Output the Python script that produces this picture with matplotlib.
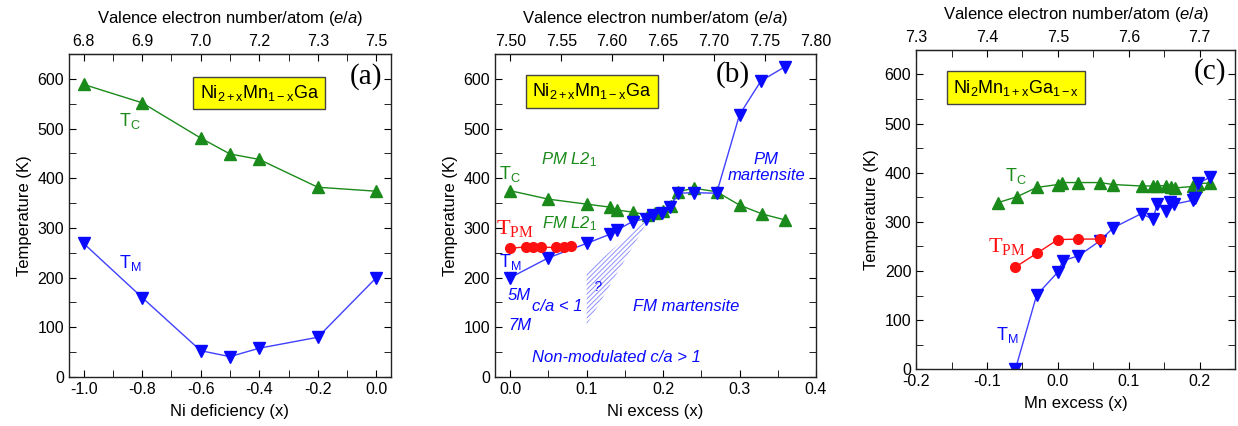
import matplotlib
matplotlib.use("Agg")
import matplotlib.pyplot as plt
from matplotlib.patches import Polygon
from matplotlib.ticker import MultipleLocator

plt.rcParams['font.family'] = ['Liberation Sans', 'DejaVu Sans']
plt.rcParams['font.size'] = 11
plt.rcParams['axes.unicode_minus'] = False
plt.rcParams['mathtext.fontset'] = 'custom'
plt.rcParams['mathtext.rm'] = 'Liberation Sans'
plt.rcParams['mathtext.it'] = 'Liberation Sans:italic'
plt.rcParams['hatch.linewidth'] = 0.7

GREEN = '#1a8a1a'
BLUE = '#0a0aff'
BLUE_LINE = '#4040ff'
RED = '#ff1010'

# (a) Ni2+xMn1-xGa, Ni deficiency
a_tc_x = [-1.0, -0.8, -0.6, -0.5, -0.4, -0.2, 0.0]
a_tc = [589, 552, 481, 449, 438, 382, 374]
a_tm_x = [-1.0, -0.8, -0.6, -0.5, -0.4, -0.2, 0.0]
a_tm = [269, 160, 53, 41, 58, 80, 200]
a_top_ticks = [6.75, 6.9, 7.05, 7.2, 7.35, 7.5]
a_top_labels = ['6.8', '6.9', '7.0', '7.2', '7.3', '7.5']

# (b) Ni2+xMn1-xGa, Ni excess
b_tc_x = [0.0, 0.05, 0.10, 0.13, 0.14, 0.16, 0.18, 0.19, 0.20, 0.21, 0.22, 0.24, 0.27, 0.30, 0.33, 0.36]
b_tc = [375, 358, 348, 342, 336, 332, 326, 330, 334, 345, 373, 380, 373, 346, 328, 316]
b_tm_x = [0.0, 0.05, 0.10, 0.13, 0.14, 0.16, 0.178, 0.187, 0.198, 0.209, 0.22, 0.24, 0.27, 0.30, 0.328, 0.36]
b_tm = [200, 240, 269, 287, 296, 313, 319, 326, 331, 342, 370, 371, 370, 528, 596, 625]
b_tpm_x = [0.0, 0.02, 0.03, 0.04, 0.06, 0.07, 0.08]
b_tpm = [259, 262, 261, 261, 261, 262, 264]
b_wedge = [(0.1, 105), (0.1, 212), (0.183, 322)]

# (c) Ni2Mn1+xGa1-x, Mn excess
c_tc_x = [-0.085, -0.058, -0.030, 0.0, 0.006, 0.029, 0.059, 0.078, 0.118, 0.134, 0.140, 0.153, 0.160, 0.165, 0.190, 0.195, 0.198, 0.215]
c_tc = [339, 351, 370, 376, 380, 380, 380, 376, 373, 373, 373, 374, 370, 369, 372, 374, 378, 379]
c_tm_x = [-0.060, -0.030, 0.0, 0.007, 0.029, 0.059, 0.078, 0.118, 0.134, 0.140, 0.153, 0.158, 0.164, 0.190, 0.193, 0.198, 0.215]
c_tm = [0, 151, 198, 221, 231, 261, 288, 317, 305, 336, 322, 340, 336, 344, 349, 379, 391]
c_tpm_x = [-0.060, -0.030, 0.0, 0.029, 0.059]
c_tpm = [208, 236, 264, 265, 265]

fig = plt.figure(figsize=(12.38, 4.26), dpi=100)
ax_a = fig.add_axes([0.0557, 0.115, 0.2601, 0.758])
ax_b = fig.add_axes([0.3998, 0.115, 0.2593, 0.758])
ax_c = fig.add_axes([0.7400, 0.133, 0.2577, 0.750])


def style(ax, xlim, xmaj, xmin, xlabel):
    ax.set_xlim(*xlim)
    ax.set_ylim(0, 650)
    ax.xaxis.set_major_locator(MultipleLocator(xmaj))
    ax.xaxis.set_minor_locator(MultipleLocator(xmin))
    ax.yaxis.set_major_locator(MultipleLocator(100))
    ax.yaxis.set_minor_locator(MultipleLocator(50))
    ax.tick_params(which='both', direction='in', right=True, top=False, labelsize=11.5)
    ax.tick_params(which='both', length=5)
    for s in ax.spines.values():
        s.set_linewidth(1.0)
        s.set_color('#222222')
    ax.set_xlabel(xlabel, fontsize=12, labelpad=5)
    ax.set_ylabel('Temperature (K)', fontsize=12, labelpad=4)


def top_axis(ax, k, ticks, labels=None, minor=None):
    sec = ax.secondary_xaxis('top', functions=(lambda x: 7.5 + k * x, lambda e: (e - 7.5) / k))
    sec.set_xticks(ticks)
    if labels is not None:
        sec.set_xticklabels(labels)
    if minor is not None:
        sec.set_xticks(minor, minor=True)
    sec.tick_params(which='both', direction='in', length=5, labelsize=11.5)
    sec.set_xlabel('Valence electron number/atom ($\\mathit{e/a}$)', fontsize=12, labelpad=8)
    return sec


def formula_box(ax, x, y, s):
    ax.text(x, y, s, fontsize=13, ha='center', va='center',
            bbox=dict(boxstyle='square,pad=0.35', facecolor='#ffff00', edgecolor='#444444', linewidth=1.0))


def plot_tc(ax, x, y):
    ax.plot(x, y, '-', color=GREEN, lw=1.0, marker='^', ms=8.5, mfc=GREEN, mec=GREEN)


def plot_tm(ax, x, y):
    ax.plot(x, y, '-', color=BLUE_LINE, lw=1.0, marker='v', ms=8.5, mfc=BLUE, mec=BLUE)


def plot_tpm(ax, x, y):
    ax.plot(x, y, '-', color=RED, lw=1.0, marker='o', ms=7, mfc=RED, mec=RED)


# ---- panel (a)
style(ax_a, (-1.05, 0.05), 0.2, 0.1, 'Ni deficiency (x)')
top_axis(ax_a, 0.75, a_top_ticks, a_top_labels,
         [6.825, 6.975, 7.125, 7.275, 7.425])
plot_tc(ax_a, a_tc_x, a_tc)
plot_tm(ax_a, a_tm_x, a_tm)
ax_a.text(-0.88, 506, r'T$_\mathregular{C}$', color=GREEN, fontsize=13)
ax_a.text(-0.88, 220, r'T$_\mathregular{M}$', color=BLUE, fontsize=13)
formula_box(ax_a, -0.40, 572, r'$\mathregular{Ni_{2+x}Mn_{1-x}Ga}$')
ax_a.text(0.02, 604, '(a)', fontsize=21, family='Liberation Serif', ha='right', va='center')

# ---- panel (b)
style(ax_b, (-0.02, 0.40), 0.1, 0.05, 'Ni excess (x)')
top_axis(ax_b, 0.75, [7.50, 7.55, 7.60, 7.65, 7.70, 7.75, 7.80],
         ['7.50', '7.55', '7.60', '7.65', '7.70', '7.75', '7.80'])
ax_b.add_patch(Polygon(b_wedge, closed=True, fill=False, hatch='///////',
                       edgecolor='#9090ff', linewidth=0))
plot_tc(ax_b, b_tc_x, b_tc)
plot_tm(ax_b, b_tm_x, b_tm)
plot_tpm(ax_b, b_tpm_x, b_tpm)
ax_b.text(-0.015, 398, r'T$_\mathregular{C}$', color=GREEN, fontsize=13)
ax_b.text(-0.018, 287, r'$\mathregular{T_{PM}}$', color=RED, fontsize=16, family='Liberation Serif')
ax_b.text(-0.015, 222, r'T$_\mathregular{M}$', color=BLUE, fontsize=13)
ax_b.text(0.040, 438, r'PM L2$_\mathit{1}$', color=GREEN, fontsize=12, style='italic', va='center')
ax_b.text(0.042, 309, r'FM L2$_\mathit{1}$', color=GREEN, fontsize=12, style='italic', va='center')
ax_b.text(-0.003, 165, '5M', color=BLUE, fontsize=12, style='italic', va='center')
ax_b.text(0.028, 141, 'c/a < 1', color=BLUE, fontsize=12, style='italic', va='center')
ax_b.text(-0.003, 104, '7M', color=BLUE, fontsize=12, style='italic', va='center')
ax_b.text(0.161, 141, 'FM martensite', color=BLUE, fontsize=12, style='italic', va='center')
ax_b.text(0.028, 39, 'Non-modulated c/a > 1', color=BLUE, fontsize=12, style='italic', va='center')
ax_b.text(0.335, 421, 'PM\nmartensite', color=BLUE, fontsize=12, style='italic',
          ha='center', va='center', linespacing=1.1)
ax_b.text(0.115, 181, '?', color=BLUE, fontsize=10, style='italic', ha='center', va='center')
formula_box(ax_b, 0.107, 575, r'$\mathregular{Ni_{2+x}Mn_{1-x}Ga}$')
ax_b.text(0.313, 608, '(b)', fontsize=21, family='Liberation Serif', ha='right', va='center')

# ---- panel (c)
style(ax_c, (-0.2, 0.25), 0.1, 0.05, 'Mn excess (x)')
top_axis(ax_c, 1.0, [7.3, 7.4, 7.5, 7.6, 7.7], ['7.3', '7.4', '7.5', '7.6', '7.7'],
         [7.35, 7.45, 7.55, 7.65, 7.75])
plot_tc(ax_c, c_tc_x, c_tc)
plot_tm(ax_c, c_tm_x, c_tm)
plot_tpm(ax_c, c_tpm_x, c_tpm)
ax_c.text(-0.074, 383, r'T$_\mathregular{C}$', color=GREEN, fontsize=13)
ax_c.text(-0.099, 238, r'$\mathregular{T_{PM}}$', color=RED, fontsize=16, family='Liberation Serif')
ax_c.text(-0.088, 60, r'T$_\mathregular{M}$', color=BLUE, fontsize=13)
formula_box(ax_c, -0.059, 573, r'$\mathregular{Ni_{2}Mn_{1+x}Ga_{1-x}}$')
ax_c.text(0.237, 605, '(c)', fontsize=21, family='Liberation Serif', ha='right', va='center')

fig.savefig('out.png', dpi=100)
